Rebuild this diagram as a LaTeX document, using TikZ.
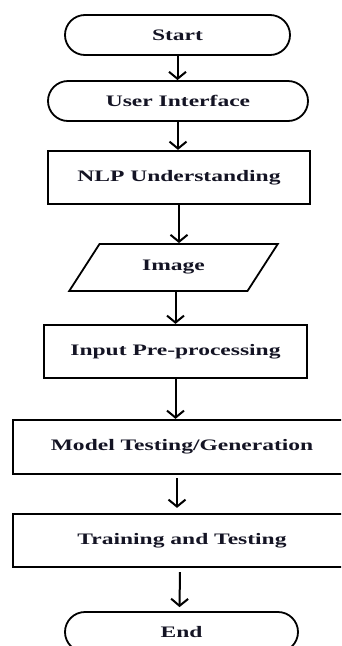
\documentclass[tikz,border=0pt]{standalone}
\usepackage{fontspec}
\setmainfont[FakeStretch=1.47]{Liberation Serif}
\usetikzlibrary{shapes.geometric,shapes.misc,arrows.meta,calc}
\definecolor{txt}{rgb}{0.08,0.08,0.14}
\begin{document}
\begin{tikzpicture}[x=1pt,y=-1pt,
  every node/.style={font=\fontsize{16}{19}\selectfont\bfseries, text=txt},
  term/.style={draw, line width=1.8pt, rounded rectangle, minimum height=40pt, inner sep=0pt},
  proc/.style={draw, line width=2.2pt, rectangle, inner sep=0pt},
  io/.style={draw, line width=1.8pt, trapezium, trapezium left angle=47.5, trapezium right angle=132.5,
    trapezium stretches=true, minimum width=209pt, minimum height=47pt, inner sep=0pt},
  flow/.style={line width=2pt, -{Straight Barb[length=7pt,width=17pt,line width=2pt]}}
]
\useasboundingbox (0,0) rectangle (341,646);
\clip (0,0) rectangle (341,646);
\node[term, minimum width=225pt] (start) at (177.5,35) {Start};
\node[term, minimum width=260pt] (ui) at (178,101) {User Interface};
\node[proc, minimum width=262pt, minimum height=53pt] (nlp) at (179,177.5) {NLP Understanding};
\node[io] (img) at (173.5,267.5) {Image\hspace{26pt}};
\node[proc, minimum width=263pt, minimum height=53pt] (inp) at (175.5,351.5) {Input Pre-processing};
\node[proc, minimum width=338pt, minimum height=54pt] (model) at (182,447) {Model Testing/Generation};
\node[proc, minimum width=338pt, minimum height=53pt] (train) at (182,540.5) {Training and Testing};
\node[term, minimum width=233pt] (stop) at (181.5,632) {End};
\draw[flow] (start.south) -- (start.south |- ui.north);
\draw[flow] (ui.south) -- (ui.south |- nlp.north);
\draw[flow] (nlp.south) -- (nlp.south |- img.north);
\draw[flow] ($(inp.north)+(0,-33)$) -- (inp.north);
\draw[flow] (inp.south) -- (inp.south |- model.north);
\draw[flow] ($(model.south)+(-5,3)$) -- ($(train.north)+(-5,-5)$);
\draw[flow] ($(train.south)+(-2,4)$) -- ($(stop.north)+(-2,-4)$);
\end{tikzpicture}
\end{document}
